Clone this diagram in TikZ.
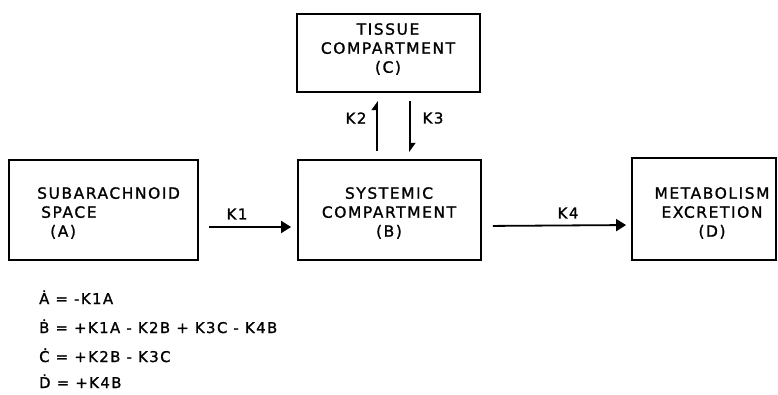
\documentclass[tikz,border=0pt]{standalone}
\usepackage{fontspec}
\setmainfont{DejaVu Sans}[LetterSpace=10, FakeBold=1.2]
\usetikzlibrary{arrows.meta}
\tikzset{
  box/.style={draw, line width=1.8pt, inner sep=0pt},
  lbl/.style={inner sep=0pt, align=center, font=\fontsize{15.5}{19}\selectfont},
  klbl/.style={inner sep=0pt, font=\fontsize{15}{18}\selectfont},
  eqn/.style={inner sep=0pt, anchor=base west, font=\fontsize{14.8}{17}\selectfont},
  bigarrow/.style={line width=1.8pt, -{Triangle[length=10pt,width=12pt]}},
  harp/.style={line width=1.8pt, -{Triangle[harpoon,length=8pt,width=11pt]}},
}
\begin{document}
\begin{tikzpicture}[x=1pt,y=-1pt]
\useasboundingbox (0,0) rectangle (778,394);
% boxes
\node[box, minimum width=189pt, minimum height=100pt] (A) at (103.5,210) {};
\node[box, minimum width=183pt, minimum height=100pt] (B) at (389.5,210) {};
\node[box, minimum width=183pt, minimum height=78pt] (C) at (388.5,53) {};
\node[box, minimum width=144pt, minimum height=102pt] (D) at (704,209) {};
% box texts
\node[lbl, align=left, anchor=west] (At) at (37,213) {SUBARACHNOID\\\hspace*{4pt}SPACE\\\hspace*{13pt}(A)};
\node[lbl] (Bt) at (389,213) {SYSTEMIC\\COMPARTMENT\\(B)};
\node[lbl] (Ct) at (388,49) {TISSUE\\COMPARTMENT\\(C)};
\node[lbl] (Dt) at (712,213) {METABOLISM\\EXCRETION\\(D)};
% connectors
\draw[bigarrow, shorten <=10pt, shorten >=6pt] ([yshift=-17pt]A.east) -- ([yshift=-17pt]B.west);
\draw[bigarrow, shorten <=11pt, shorten >=5pt] ([yshift=-16pt]B.east) -- ([yshift=-16pt]D.west);
\draw[harp, shorten <=8pt, shorten >=8pt] ([xshift=-12.5pt]B.north) -- ([xshift=-11.5pt]C.south);
\draw[harp, shorten <=8pt, shorten >=7pt] ([xshift=21.5pt]C.south) -- ([xshift=20.5pt]B.north);
% rate labels
\node[klbl] (k1) at (237,214) {K1};
\node[klbl] (k4) at (568,213) {K4};
\node[klbl] (k2) at (356,118) {K2};
\node[klbl] (k3) at (433,118) {K3};
% equations
\node[eqn] (e1) at (39,304) {Ȧ = -K1A};
\node[eqn] (e2) at (39,333) {Ḃ = +K1A - K2B + K3C - K4B};
\node[eqn] (e3) at (39,362) {Ċ = +K2B - K3C};
\node[eqn] (e4) at (39,388) {Ḋ = +K4B};
\end{tikzpicture}
\end{document}
